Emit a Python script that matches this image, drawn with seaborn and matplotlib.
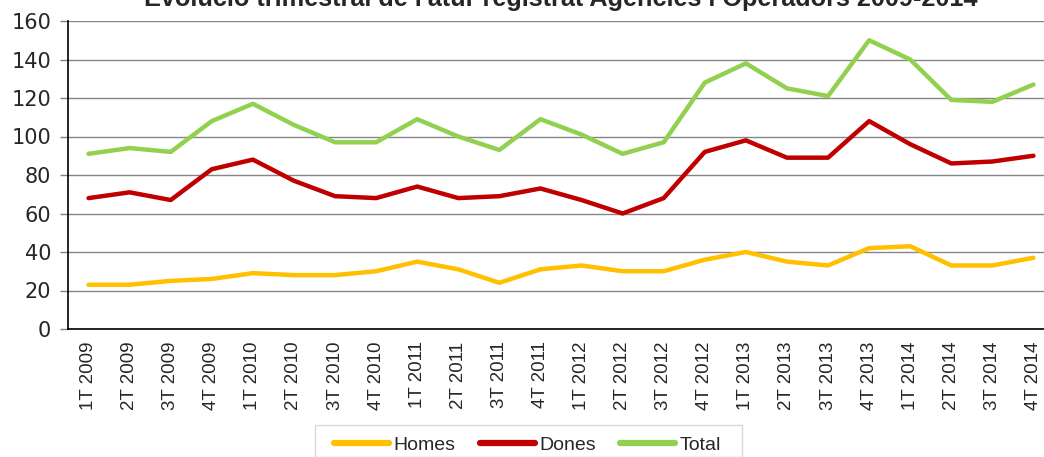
import numpy as np
import pandas as pd
import matplotlib
matplotlib.use("Agg")
import matplotlib.pyplot as plt
from matplotlib.lines import Line2D
from matplotlib.patches import Rectangle
import seaborn as sns

# =====================================
# Data
# =====================================
quarters = ["1T 2009", "2T 2009", "3T 2009", "4T 2009",
            "1T 2010", "2T 2010", "3T 2010", "4T 2010",
            "1T 2011", "2T 2011", "3T 2011", "4T 2011",
            "1T 2012", "2T 2012", "3T 2012", "4T 2012",
            "1T 2013", "2T 2013", "3T 2013", "4T 2013",
            "1T 2014", "2T 2014", "3T 2014", "4T 2014"]

homes = [23, 23, 25, 26, 29, 28, 28, 30, 35, 31, 24, 31,
         33, 30, 30, 36, 40, 35, 33, 42, 43, 33, 33, 37]
dones = [68, 71, 67, 83, 88, 77, 69, 68, 74, 68, 69, 73,
         67, 60, 68, 92, 98, 89, 89, 108, 96, 86, 87, 90]
total = [91, 94, 92, 108, 117, 106, 97, 97, 109, 100, 93, 109,
         101, 91, 97, 128, 138, 125, 121, 150, 140, 119, 118, 127]

series_names = ["Homes", "Dones", "Total"]
colors = ["#FFC000", "#C00000", "#92D050"]

title = "Evolució trimestral de l'atur registrat Agències i Operadors 2009-2014"

# long-form table for seaborn
df = pd.DataFrame({
    "trimestre": quarters * 3,
    "valor": homes + dones + total,
    "serie": np.repeat(series_names, len(quarters)),
})

# =====================================
# Plot
# =====================================
sns.set_style("white")
plt.rcParams["font.family"] = ["DejaVu Sans"]

W, H = 1044, 457
fig = plt.figure(figsize=(W / 100, H / 100), dpi=100)
# plot area: x from 68 to ~1054 px, y from 21 to 329 px
ax = fig.add_axes([68 / W, 1 - 329 / H, (1054 - 68) / W, (329 - 21) / H])

sns.lineplot(data=df, x="trimestre", y="valor", hue="serie",
             palette=dict(zip(series_names, colors)), sort=False,
             linewidth=3.2, ax=ax, legend=False,
             solid_joinstyle="round", solid_capstyle="round")

ax.set_xlim(-0.5, len(quarters) - 0.5)
ax.set_ylim(0, 160)
ax.set_yticks(np.arange(0, 161, 20))
ax.set_xlabel("")
ax.set_ylabel("")

# gridlines
ax.yaxis.grid(True, color="#868686", linewidth=1.0)
ax.xaxis.grid(False)
ax.set_axisbelow(True)

for s in ["top", "right"]:
    ax.spines[s].set_visible(False)
for s in ["left", "bottom"]:
    ax.spines[s].set_visible(True)
    ax.spines[s].set_color("black")
    ax.spines[s].set_linewidth(1.2)

# tick marks between categories
ax.set_xticks(np.arange(len(quarters)))
ax.set_xticklabels(quarters, rotation=90, fontsize=13.5,
                   family=["Liberation Sans", "DejaVu Sans"])
ax.set_xticks(np.arange(-0.5, len(quarters)), minor=True)
ax.tick_params(axis="x", which="major", length=0, pad=9)
ax.tick_params(axis="x", which="minor", length=6, color="#808080", width=1)
ax.tick_params(axis="y", which="major", length=6, color="#808080",
               width=1, labelsize=15, pad=6, left=True)

# title, partly cut off at the top as in the reference
fig.text(561 / W, 1 - 6 / H, title, ha="center", va="baseline",
         fontsize=18.2, fontweight="bold",
         family=["Liberation Sans", "DejaVu Sans"])

# legend (frame drawn separately to get the wide Excel-style padding)
handles = [Line2D([0], [0], color=c, lw=4.5, solid_capstyle="round")
           for c in colors]
leg = fig.legend(handles, series_names, loc="center left",
                 bbox_to_anchor=(334 / W, 1 - 445 / H),
                 ncol=3, frameon=False,
                 prop={"family": ["Liberation Sans", "DejaVu Sans"], "size": 14},
                 handlelength=2.85, handletextpad=0.2, columnspacing=1.25,
                 borderpad=0, borderaxespad=0)
fig.patches.append(Rectangle((315 / W, 0), (742 - 315) / W, (457 - 425) / H,
                             transform=fig.transFigure, fill=False,
                             edgecolor="#D9D9D9", linewidth=1.0))

fig.savefig("out.png", dpi=100)
